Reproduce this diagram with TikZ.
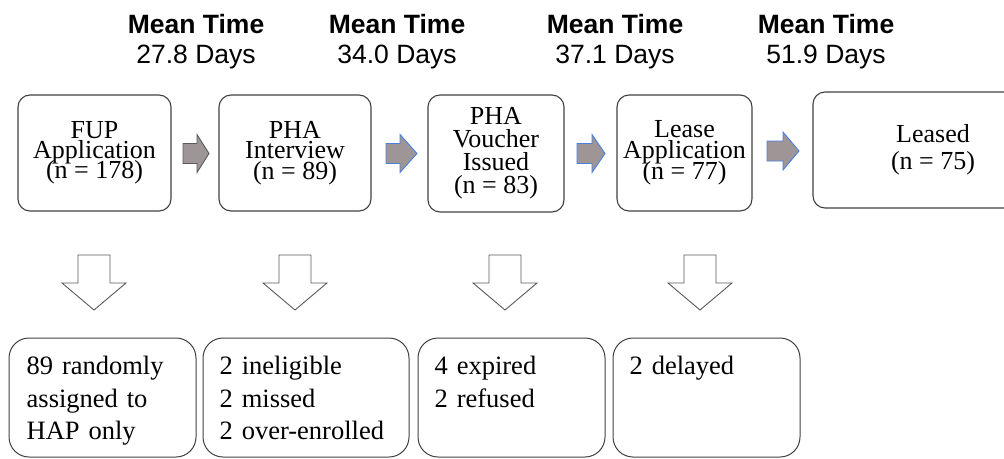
\documentclass[tikz,border=0pt]{standalone}
\usepackage{fontspec}
\setmainfont{Liberation Serif}
\newfontfamily\hdrfont{Liberation Sans}
\usetikzlibrary{calc}
\definecolor{boxline}{HTML}{404040}
\definecolor{arrfill}{HTML}{9E9696}
\definecolor{arrblue}{HTML}{4A7FE0}
\definecolor{arrgray}{HTML}{5A5A5A}
\newcommand\tf[1]{\fontsize{26}{#1}\selectfont\lineskiplimit=-100pt\relax}
\newcommand\rightblock[5]{% style, x, y, length, headlength
  \draw[#1] (#2,#3-10) -- (#2+#4-#5,#3-10) -- (#2+#4-#5,#3-19) -- (#2+#4,#3)
    -- (#2+#4-#5,#3+19) -- (#2+#4-#5,#3+10) -- (#2,#3+10) -- cycle;}
\newcommand\downblock[1]{% center x
  \draw[darr] (#1-16,255) -- (#1+16,255) -- (#1+16,283) -- (#1+32,283)
    -- (#1,310) -- (#1-32,283) -- (#1-16,283) -- cycle;}
\tikzset{
  tbox/.style={draw=boxline, line width=1.1pt, rounded corners=12pt, inner sep=0pt,
    align=center, font=\tf{20}},
  bbox/.style={draw=boxline, line width=1pt, rounded corners=20pt, inner sep=0pt},
  btext/.style={anchor=base west, inner sep=0pt, text width=190pt, align=left,
    font=\fontsize{26.5}{32.5}\selectfont},
  hdr/.style={anchor=base, inner sep=0pt, font=\hdrfont\fontsize{26.5}{30}\selectfont},
  rarr/.style={fill=arrfill, draw=arrblue, line width=0.9pt, line join=miter},
  rarrg/.style={rarr, draw=arrgray},
  darr/.style={fill=white, draw=arrgray, line width=0.9pt, line join=miter},
}
\begin{document}
\begin{tikzpicture}[x=1pt, y=-1pt]
\useasboundingbox (0,0) rectangle (1004,458);
\clip (0,0) rectangle (1004,458);

% headers
\node[hdr] (h1a) at (196,33) {\bfseries Mean Time};
\node[hdr] (h1b) at (196,63) {27.8 Days};
\node[hdr] (h2a) at (397,33) {\bfseries Mean Time};
\node[hdr] (h2b) at (397,63) {34.0 Days};
\node[hdr] (h3a) at (615,33) {\bfseries Mean Time};
\node[hdr] (h3b) at (615,63) {37.1 Days};
\node[hdr] (h4a) at (826,33) {\bfseries Mean Time};
\node[hdr] (h4b) at (826,63) {51.9 Days};

% top boxes
\node[tbox, minimum width=153pt, minimum height=116pt] (t1) at (94.5,153)
  {FUP\\Application\\(n = 178)};
\node[tbox, minimum width=152pt, minimum height=116pt, font=\tf{20.5}] (t2) at (295,153)
  {PHA\\Interview\\(n = 89)};
\node[tbox, minimum width=136pt, minimum height=117pt, font=\tf{23}] (t3) at (496,153.5)
  {PHA\\Voucher\\Issued\\(n = 83)};
\node[tbox, minimum width=135pt, minimum height=116pt, font=\tf{21}] (t4) at (684.5,153)
  {Lease\\Application\\(n = 77)};
\node[tbox, minimum width=240pt, minimum height=116pt, font=\tf{27}] (t5) at (933,150)
  {Leased\\(n = 75)};

% right block arrows
\rightblock{rarrg}{183}{153.5}{26}{12}
\rightblock{rarr}{386}{153.5}{31}{17}
\rightblock{rarr}{577}{153.5}{28}{13}
\rightblock{rarr}{767}{151}{32}{16}

% down block arrows
\downblock{94}
\downblock{295}
\downblock{505}
\downblock{700}

% bottom boxes
\node[bbox, minimum width=187pt, minimum height=119pt] (b1) at (102.5,397.5) {};
\node[bbox, minimum width=206pt, minimum height=119pt] (b2) at (306,397.5) {};
\node[bbox, minimum width=187pt, minimum height=119pt] (b3) at (511.5,397.5) {};
\node[bbox, minimum width=187pt, minimum height=119pt] (b4) at (706.5,397.5) {};

\node[btext] (b1t) at ($(b1.north west)+(18,37)$) {89 randomly\\assigned to\\HAP only};
\node[btext] (b2t) at ($(b2.north west)+(17,37)$) {2 ineligible\\2 missed\\2 over-enrolled};
\node[btext] (b3t) at ($(b3.north west)+(17,37)$) {4 expired\\2 refused};
\node[btext] (b4t) at ($(b4.north west)+(17,37)$) {2 delayed};
\end{tikzpicture}
\end{document}
